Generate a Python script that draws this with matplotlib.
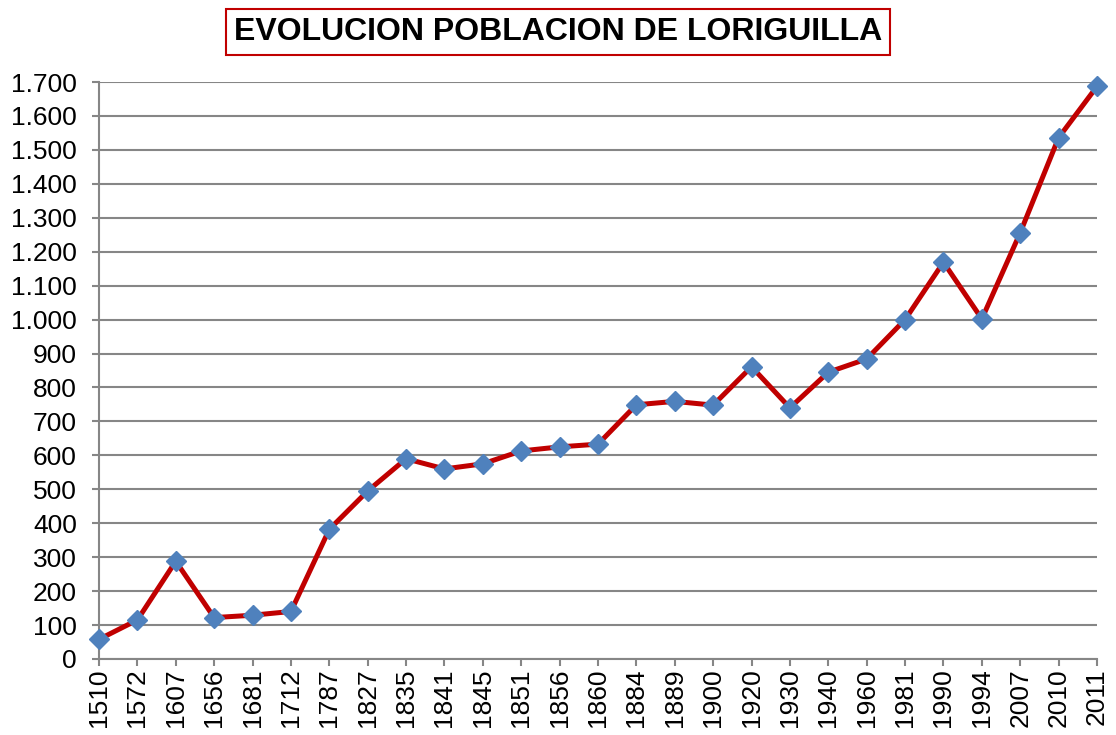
import matplotlib.pyplot as plt
from matplotlib.ticker import FuncFormatter, MultipleLocator

# Census years and inhabitants of Loriguilla
years = ["1510", "1572", "1607", "1656", "1681", "1712", "1787", "1827", "1835",
         "1841", "1845", "1851", "1856", "1860", "1884", "1889", "1900", "1920",
         "1930", "1940", "1960", "1981", "1990", "1994", "2007", "2010", "2011"]
population = [58, 115, 288, 122, 129, 140, 382, 495, 590,
              560, 575, 613, 625, 633, 749, 759, 748, 861,
              740, 845, 884, 1000, 1169, 1002, 1256, 1536, 1687]

title = "EVOLUCION POBLACION DE LORIGUILLA"

plt.rcParams['font.family'] = ['Liberation Sans', 'DejaVu Sans']

fig = plt.figure(figsize=(11.16, 7.35), dpi=100)
# axes box in pixels: left 99, right 1097, top 82, bottom 659
ax = fig.add_axes([99 / 1116, 1 - 659 / 735, (1097 - 99) / 1116, (659 - 82) / 735])

x = list(range(len(years)))
ax.plot(x, population, color='#C00000', linewidth=3.6, zorder=3, clip_on=False)
ax.plot(x, population, linestyle='none', marker='D', markersize=10.5,
        color='#4F81BD', markeredgecolor='#4F81BD', zorder=4, clip_on=False)

ax.set_xlim(0, len(years) - 1)
ax.set_ylim(0, 1700)
ax.set_xticks(x)
ax.set_xticklabels(years, rotation=90, fontsize=19)
ax.yaxis.set_major_locator(MultipleLocator(100))
ax.yaxis.set_major_formatter(FuncFormatter(lambda v, p: f"{int(v):,}".replace(",", ".")))
ax.tick_params(axis='y', labelsize=19, length=5, width=1.5, color='#868686', pad=11)
ax.tick_params(axis='x', length=5, width=1.5, color='#868686', pad=2)

ax.grid(axis='y', color='#868686', linewidth=1.5)
ax.set_axisbelow(True)
for side in ['top', 'right']:
    ax.spines[side].set_visible(False)
for side in ['left', 'bottom']:
    ax.spines[side].set_color('#868686')
    ax.spines[side].set_linewidth(1.5)

fig.text(0.5, 1 - 32 / 735, title, ha='center', va='center', fontsize=23,
         fontweight='bold', color='black',
         bbox=dict(boxstyle='square,pad=0.25', facecolor='white', edgecolor='#C00000', linewidth=1.5))

fig.savefig('out.png', dpi=100)
